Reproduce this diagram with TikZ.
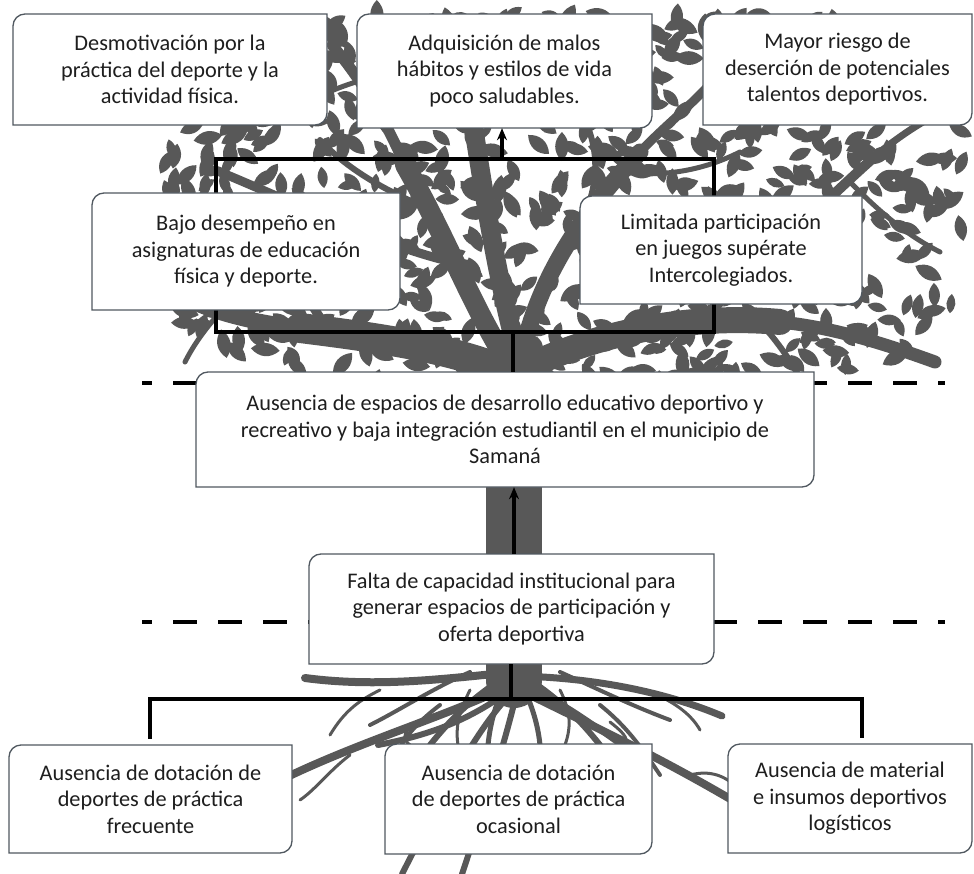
\documentclass[tikz,border=0pt]{standalone}
\usepackage{fontspec}
\setmainfont{Carlito}
\usetikzlibrary{arrows.meta}
\definecolor{treecol}{RGB}{88,88,88}
\definecolor{boxedge}{RGB}{80,88,96}
\definecolor{txtcol}{RGB}{30,30,30}
\tikzset{
  boxline/.style={draw=boxedge, fill=white, line width=1.3pt},
  boxtext/.style={inner sep=0pt, align=center, text=txtcol, font=\fontsize{22.3}{26.5}\selectfont},
  conn/.style={draw=black, line width=3.6pt},
  arrowc/.style={conn, -{Stealth[length=12pt,width=10pt]}},
  sepline/.style={draw=black, line width=4.8pt, dash pattern=on 24pt off 21pt, dash phase=14pt},
  br/.style={draw=treecol, line cap=round, line width=#1},
}
\newcommand{\causebox}[6]{%
  \path[boxline] (#2,#5) -- (#2,#3+12) arc(180:270:12) -- (#4,#3) -- (#4,#5-12) arc(0:90:12) -- cycle;
  \node[boxtext, minimum width={#4-#2}, minimum height={#5-#3}] (#1) at ({(#2+#4)/2},{(#3+#5)/2}) {#6};
}
\begin{document}
\begin{tikzpicture}[x=1pt, y=-1pt]
\useasboundingbox (0,0) rectangle (974,874);
\fill[white] (0,0) rectangle (974,874);

% ---------- tree: trunk and branches ----------
\draw[br=56pt] (514,680) -- (514,372);
\draw[br=30pt] (508,372) .. controls (450,348) and (380,338) .. (300,328);
\draw[br=16pt] (300,328) .. controls (250,322) and (210,312) .. (178,294);
\draw[br=9pt] (330,332) .. controls (300,290) and (275,240) .. (250,205);
\draw[br=7pt] (260,324) .. controls (240,300) and (215,270) .. (190,250);
\draw[br=20pt] (500,350) .. controls (465,290) and (445,235) .. (405,165);
\draw[br=11pt] (405,165) .. controls (385,120) and (362,80) .. (332,45);
\draw[br=19pt] (515,345) .. controls (495,265) and (485,200) .. (474,130);
\draw[br=10pt] (474,130) .. controls (468,90) and (452,50) .. (432,18);
\draw[br=17pt] (525,342) .. controls (545,265) and (590,205) .. (640,152);
\draw[br=9pt] (640,152) .. controls (670,120) and (700,100) .. (730,60);
\draw[br=26pt] (525,368) .. controls (600,332) and (690,314) .. (780,322);
\draw[br=13pt] (780,322) .. controls (830,327) and (880,342) .. (935,362);
\draw[br=10pt] (700,320) .. controls (765,262) and (820,205) .. (880,152);
\draw[br=7pt] (880,152) .. controls (905,132) and (925,120) .. (945,110);
\draw[br=9pt] (452,262) .. controls (380,245) and (300,205) .. (220,172);
\draw[br=7pt] (560,250) .. controls (600,240) and (640,225) .. (680,205);
\draw[br=6pt] (590,200) .. controls (602,160) and (592,130) .. (575,100);
\draw[br=6pt] (760,322) .. controls (780,345) and (790,360) .. (800,378);
\draw[br=6pt] (420,205) .. controls (390,192) and (350,172) .. (320,140);
\draw[br=5pt] (850,182) .. controls (870,202) and (900,232) .. (940,252);
\draw[br=5pt] (620,172) .. controls (660,177) and (700,172) .. (740,152);
\draw[br=5pt] (362,80) .. controls (330,90) and (300,102) .. (270,132);
\draw[br=5pt] (230,302) .. controls (210,322) and (195,342) .. (185,362);
\draw[br=5pt] (470,60) .. controls (500,50) and (520,40) .. (540,20);

% ---------- tree: leaves ----------
\pgfmathsetseed{23}
\foreach \i in {1,...,900}{
  \pgfmathsetmacro\lx{165+800*rnd}
  \pgfmathsetmacro\ly{12+378*rnd}
  \pgfmathsetmacro\rot{180*rnd}
  \pgfmathsetmacro\sc{0.7+0.45*rnd}
  \pgfmathtruncatemacro\ok{(((\lx-565)/400)^4+((\ly-200)/190)^4)<1}
  \ifnum\ok=1
  \fill[treecol, shift={(\lx,\ly)}, rotate=\rot, scale=\sc]
    (0,-13) .. controls (8,-5) and (8,5) .. (0,13) .. controls (-8,5) and (-8,-5) .. (0,-13);
  \fi
}

% ---------- tree: roots ----------
\draw[br=8pt] (514,672) .. controls (450,678) and (380,688) .. (305,678);
\draw[br=8pt] (505,688) .. controls (440,718) and (360,742) .. (285,778);
\draw[br=6pt] (505,700) .. controls (470,740) and (440,800) .. (402,874);
\draw[br=6pt] (515,700) .. controls (500,760) and (480,820) .. (462,874);
\draw[br=8pt] (520,690) .. controls (580,720) and (650,752) .. (732,800);
\draw[br=7pt] (520,676) .. controls (590,678) and (660,690) .. (722,716);
\draw[br=6pt] (515,682) .. controls (570,702) and (610,740) .. (648,762);
\draw[br=6pt] (510,690) .. controls (470,720) and (430,735) .. (378,745);
\draw[br=6pt] (500,680) .. controls (470,700) and (450,720) .. (430,745);
\draw[br=6pt] (530,680) .. controls (560,700) and (580,720) .. (600,745);
\draw[br=5pt] (505,685) .. controls (495,705) and (490,725) .. (488,745);
\draw[br=5pt] (522,685) .. controls (532,705) and (538,725) .. (540,745);
\draw[br=4pt] (440,705) .. controls (420,720) and (400,740) .. (395,760);
\draw[br=4pt] (600,705) .. controls (625,725) and (640,745) .. (660,775);
\draw[br=4pt] (470,672) .. controls (430,690) and (400,710) .. (370,725);
\draw[br=4pt] (560,672) .. controls (600,690) and (630,705) .. (670,720);
\draw[br=3pt] (380,690) .. controls (360,700) and (345,710) .. (330,735);
\draw[br=3pt] (650,692) .. controls (670,700) and (690,712) .. (700,730);
\draw[br=3pt] (350,755) .. controls (330,770) and (315,790) .. (300,800);
\draw[br=3pt] (690,775) .. controls (710,770) and (725,775) .. (740,790);
\draw[br=3pt] (470,690) .. controls (460,710) and (455,725) .. (458,745);
\draw[br=3pt] (560,690) .. controls (570,710) and (572,725) .. (565,745);
\draw[br=3pt] (420,720) .. controls (405,730) and (400,738) .. (410,745);
\draw[br=3pt] (610,722) .. controls (620,730) and (630,738) .. (625,745);

% ---------- dashed separators ----------
\coordinate (s1a) at (142,383);
\coordinate (s1b) at (945,383);
\coordinate (s2a) at (142,622);
\coordinate (s2b) at (945,622);
\draw[sepline] (s1a) -- (s1b);
\draw[sepline] (s2a) -- (s2b);

% ---------- bracket behind intermediate boxes ----------
\coordinate (brTL) at (216,159);
\coordinate (brBR) at (714,332);
\draw[conn] (brTL) rectangle (brBR);

% ---------- boxes ----------
\causebox{b1}{13}{14}{327}{125}{Desmotivación por la\\práctica del deporte y la\\actividad física.}
\causebox{b2}{357}{14}{652}{128}{Adquisición de malos\\hábitos y estilos de vida\\poco saludables.}
\causebox{b3}{703}{14}{972}{125}{Mayor riesgo de\\deserción de potenciales\\talentos deportivos.}
\causebox{b4}{92}{193}{400}{310}{Bajo desempeño en\\asignaturas de educación\\física y deporte.}
\causebox{b5}{580}{196}{862}{304}{Limitada participación\\en juegos supérate\\Intercolegiados.}
\causebox{b6}{196}{372}{814}{487}{Ausencia de espacios de desarrollo educativo deportivo y\\recreativo y baja integración estudiantil en el municipio de\\Samaná}
\causebox{b7}{309}{554}{714}{664}{Falta de capacidad institucional para\\generar espacios de participación y\\oferta deportiva}
\causebox{b8}{9}{745}{292}{853}{Ausencia de dotación de\\deportes de práctica\\frecuente}
\causebox{b9}{385}{744}{652}{854}{Ausencia de dotación\\de deportes de práctica\\ocasional}
\causebox{b10}{728}{744}{972}{853}{Ausencia de material\\e insumos deportivos\\logísticos}

% ---------- connectors ----------
\coordinate (brtop) at (502,159);
\coordinate (brbot) at (513,332);
\draw[arrowc] (brtop) -- (brtop |- b2.south);
\draw[conn] (brbot) -- (brbot |- b6.north);
\coordinate (up7) at (514,554);
\draw[arrowc] (up7) -- (up7 |- b6.south);
\coordinate (busC) at (511,699);
\coordinate (busL) at (150,699);
\coordinate (busR) at (862,699);
\draw[conn] (b7.south -| busC) -- (busC);
\draw[conn, line cap=rect] (busL) -- (busR);
\draw[conn] (busL) -- ([yshift=6pt]busL |- b8.north);
\draw[conn] (busR) -- ([yshift=6pt]busR |- b10.north);
\end{tikzpicture}
\end{document}
